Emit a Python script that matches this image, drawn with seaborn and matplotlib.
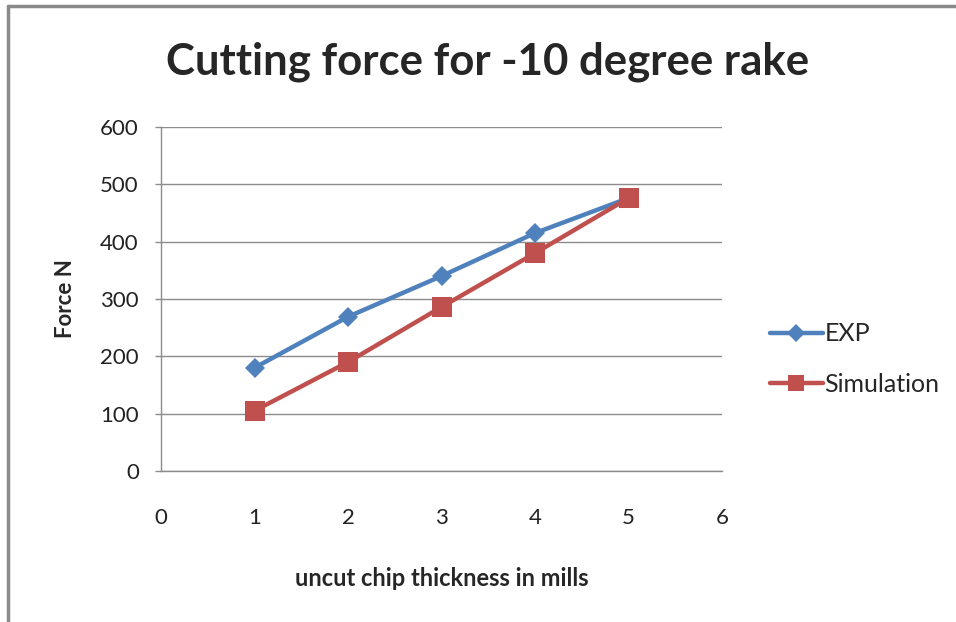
import matplotlib
matplotlib.use("Agg")
import matplotlib.pyplot as plt
from matplotlib.lines import Line2D
import seaborn as sns
import pandas as pd

# Cutting force vs uncut chip thickness, -10 degree rake
thickness = [1, 2, 3, 4, 5]
exp_force = [180, 269, 340, 415, 476]
sim_force = [105, 190, 286, 380, 476]
series_names = ["EXP", "Simulation"]
x_ticks = [0, 1, 2, 3, 4, 5, 6]
y_ticks = [0, 100, 200, 300, 400, 500, 600]

df = pd.DataFrame({
    "thickness": thickness * 2,
    "force": exp_force + sim_force,
    "series": [series_names[0]] * len(thickness) + [series_names[1]] * len(thickness),
})

sns.set_theme(style="white")
plt.rcParams["font.family"] = ["Lato", "DejaVu Sans"]

fig = plt.figure(figsize=(9.56, 6.22), dpi=100)
ax = fig.add_axes([161 / 956, 1 - 471 / 622, (722 - 161) / 956, (471 - 127) / 622])

palette = {"EXP": "#4F81BD", "Simulation": "#C0504D"}
sns.lineplot(
    data=df, x="thickness", y="force", hue="series", style="series",
    markers={"EXP": "D", "Simulation": "s"}, dashes=False,
    palette=palette, linewidth=3.2, markersize=11, markeredgewidth=0,
    ax=ax, legend=False,
)
# squares a bit larger than diamonds
for line, ms in zip(ax.lines, [10.5, 14]):
    line.set_markersize(ms)

ax.set_xlim(0, 6)
ax.set_ylim(0, 600)
ax.set_xticks(x_ticks)
ax.set_yticks(y_ticks)
ax.yaxis.grid(True, color="#8c8c8c", linewidth=1)
ax.xaxis.grid(False)
for side in ["top", "right"]:
    ax.spines[side].set_visible(False)
for side in ["left", "bottom"]:
    ax.spines[side].set_color("#8c8c8c")
    ax.spines[side].set_linewidth(1)
ax.tick_params(axis="y", which="major", direction="out", length=4, width=1,
               color="#8c8c8c", left=True, pad=12, labelsize=16, labelcolor="#222222")
ax.tick_params(axis="x", which="major", length=0, pad=27, labelsize=16, labelcolor="#222222")

ax.set_xlabel("uncut chip thickness in mills", fontsize=17, fontweight="bold", labelpad=28)
ax.set_ylabel("Force N", fontsize=16, fontweight="bold", labelpad=17)
fig.suptitle("Cutting force for -10 degree rake", x=488 / 956, y=1 - 62 / 622,
             va="center", fontsize=31.5, fontweight="bold")

handles = [
    Line2D([], [], color=palette["EXP"], marker="D", markersize=9, linewidth=3.2,
           markeredgewidth=0),
    Line2D([], [], color=palette["Simulation"], marker="s", markersize=12, linewidth=3.2,
           markeredgewidth=0),
]
fig.legend(handles, series_names, loc="center left", bbox_to_anchor=(757 / 956, 1 - 359 / 622),
           frameon=False, fontsize=18, handlelength=2.15, handletextpad=0.05,
           labelspacing=1.1, borderpad=0)

# chart frame on the left and top edges
frame_kw = dict(color="#8a8a8a", linewidth=2.5, transform=fig.transFigure)
fig.add_artist(Line2D([8 / 956, 8 / 956], [0, 1 - 6 / 622], **frame_kw))
fig.add_artist(Line2D([8 / 956, 1], [1 - 6 / 622, 1 - 6 / 622], **frame_kw))

fig.savefig("out.png", dpi=100, facecolor="white")
